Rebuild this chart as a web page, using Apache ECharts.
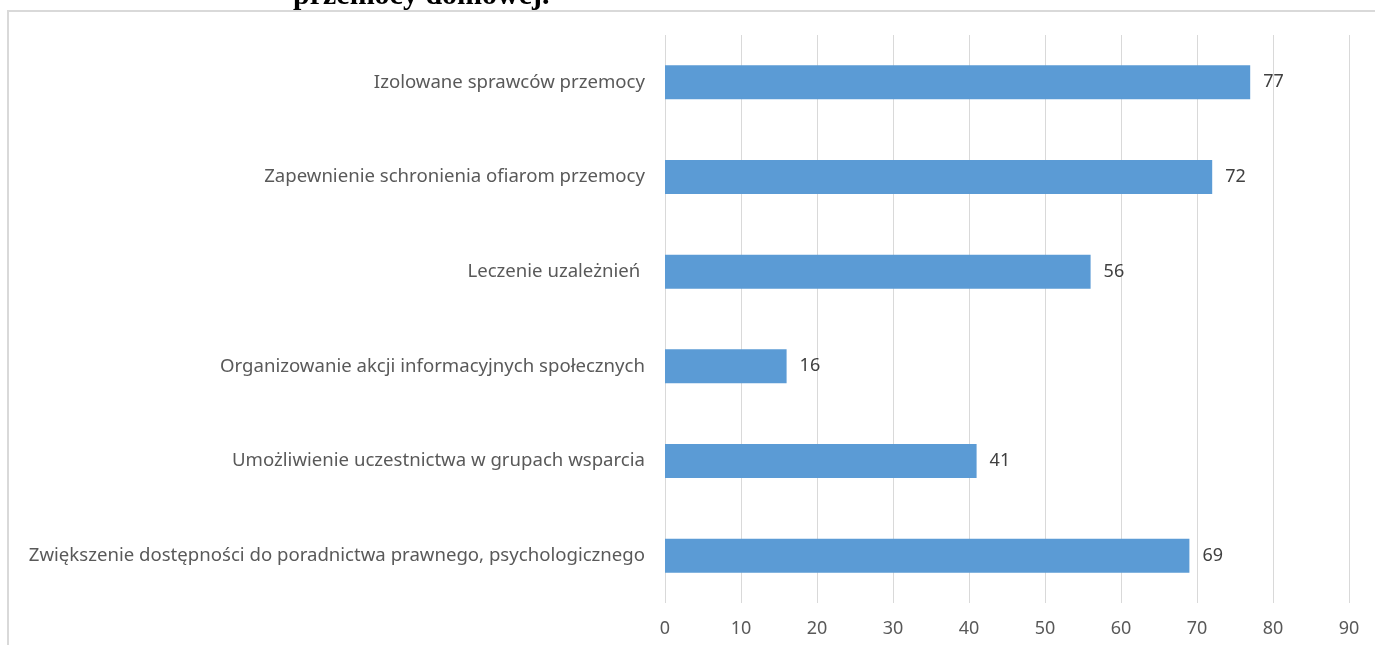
<!DOCTYPE html>
<html>
<head>
<meta charset="utf-8">
<script src="https://cdn.jsdelivr.net/npm/echarts@6/dist/echarts.min.js"></script>
<style>
  html, body { margin: 0; padding: 0; background: #fff; }
  #chart { width: 1375px; height: 645px; }
</style>
</head>
<body>
<div id="chart"></div>
<script>
// Forms of help for people affected by domestic violence (number of answers)
const categories = [
  'Zwiększenie dostępności do poradnictwa prawnego, psychologicznego',
  'Umożliwienie uczestnictwa w grupach wsparcia',
  'Organizowanie akcji informacyjnych społecznych',
  'Leczenie uzależnień ',
  'Zapewnienie schronienia ofiarom przemocy',
  'Izolowane sprawców przemocy'
];
const values = [69, 41, 16, 56, 72, 77];
const xTicks = [0, 10, 20, 30, 40, 50, 60, 70, 80, 90];
const titleTail = 'przemocy domowej.';

const chart = echarts.init(document.getElementById('chart'), null, { renderer: 'canvas' });
const labelFont = 'Noto Sans';

chart.setOption({
  animation: false,
  backgroundColor: '#ffffff',
  graphic: [
    {
      type: 'rect',
      shape: { x: 8, y: 11, width: 1400, height: 700 },
      style: { fill: 'none', stroke: '#d9d9d9', lineWidth: 2 },
      silent: true
    },
    {
      type: 'text',
      x: 293, y: 11,
      style: {
        text: titleTail,
        font: 'bold 30px "Liberation Serif", "Times New Roman", serif',
        fill: '#000000',
        verticalAlign: 'bottom'
      },
      silent: true
    }
  ],
  grid: { left: 665, right: 26, top: 35, bottom: 42, containLabel: false },
  xAxis: {
    type: 'value',
    min: xTicks[0],
    max: xTicks[xTicks.length - 1],
    interval: 10,
    axisLine: { show: false },
    axisTick: { show: false },
    axisLabel: {
      color: '#595959', fontFamily: labelFont, fontSize: 18, margin: 17
    },
    splitLine: { show: true, lineStyle: { color: '#d9d9d9', width: 1 } }
  },
  yAxis: {
    type: 'category',
    data: categories,
    axisLine: { show: false },
    axisTick: { show: false },
    axisLabel: {
      color: '#595959', fontFamily: labelFont, fontSize: 18.6, margin: 20
    }
  },
  series: [{
    type: 'bar',
    data: values,
    barWidth: '36%',
    itemStyle: { color: '#5b9bd5' },
    label: {
      show: true,
      position: 'right',
      distance: 13,
      color: '#404040',
      fontFamily: labelFont,
      fontSize: 18
    }
  }]
});
</script>
</body>
</html>
